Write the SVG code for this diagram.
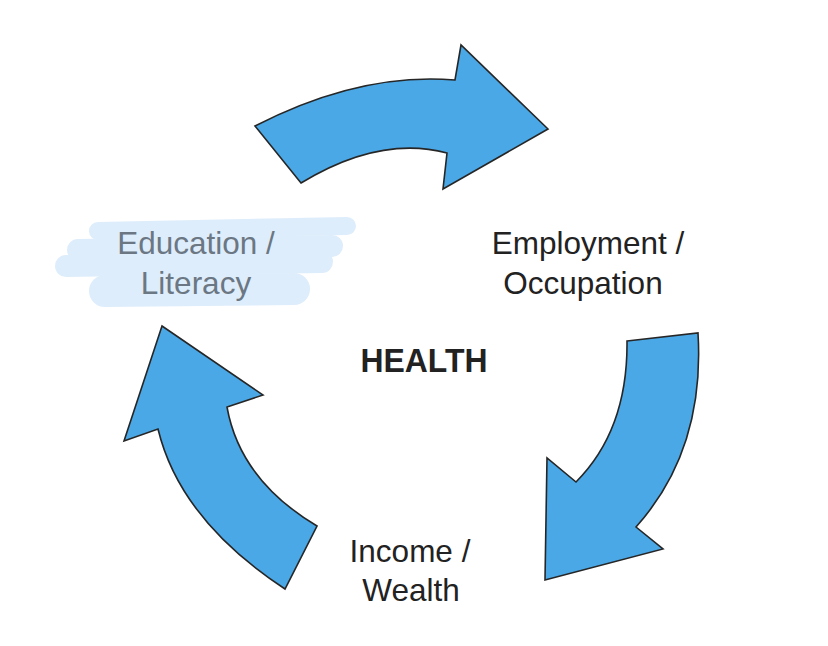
<svg xmlns="http://www.w3.org/2000/svg" width="828" height="646" viewBox="0 0 828 646">
<style>
.arrow{fill:#4aa8e6;stroke:#262626;stroke-width:1.6;stroke-linejoin:miter}
.lbl{font-family:"Liberation Sans",Arial,sans-serif;font-size:31.5px;fill:#222;text-anchor:middle}
.hl{stroke:#deedfb;stroke-linecap:round;fill:none}
</style>
<rect width="828" height="646" fill="#fff"/>
<g id="connectors">
<path id="arrow-top" class="arrow" d="M255,126 Q360,72 455,80 L461,45 L548,129 L443,189 L447,153 Q380,135 301,183 Z"/>
<path id="arrow-right" class="arrow" d="M627,341 L698,333 Q705,450 636,527 L663,549 L545,580 L547,458 L576,482 Q628,430 627,341 Z"/>
<path id="arrow-left" class="arrow" d="M162,326 L263,395 L227,407 Q240,480 317,526 L285,589 Q180,520 158,429 L124,441 Z"/>
</g>
<g id="node-education">
<g class="hl">
<line x1="98" y1="231" x2="347" y2="226" stroke-width="18"/>
<line x1="78" y1="250" x2="332" y2="246" stroke-width="22"/>
<line x1="66" y1="266" x2="322" y2="262" stroke-width="22"/>
<line x1="105" y1="291" x2="294" y2="289" stroke-width="32"/>
</g>
<text class="lbl" x="196" y="254" style="fill:#6b7783">Education /</text>
<text class="lbl" x="196" y="294" style="fill:#6b7783">Literacy</text>
</g>
<g id="node-employment">
<text class="lbl" x="588" y="254">Employment /</text>
<text class="lbl" x="583" y="294">Occupation</text>
</g>
<g id="node-income">
<text class="lbl" x="410" y="562">Income /</text>
<text class="lbl" x="411" y="601">Wealth</text>
</g>
<g id="node-health">
<text x="424" y="372" font-family="'Liberation Sans',Arial,sans-serif" font-weight="bold" font-size="34" fill="#222" text-anchor="middle" textLength="127" lengthAdjust="spacingAndGlyphs">HEALTH</text>
</g>
</svg>
